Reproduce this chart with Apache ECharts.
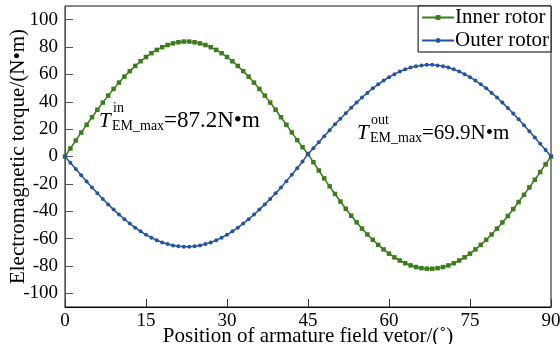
<!DOCTYPE html>
<html>
<head>
<meta charset="utf-8">
<script src="https://cdn.jsdelivr.net/npm/echarts@6/dist/echarts.min.js"></script>
<style>
  html, body { margin: 0; padding: 0; background: #fff; }
  #my_chart { width: 560px; height: 344px; }
</style>
</head>
<body>
<div id="my_chart"></div>
<script>
  // rotor position, degrees
  var angles = [
    0, 1, 2, 3, 4, 5, 6, 7, 8, 9, 10, 11, 12, 13, 14, 15, 16, 17, 18, 19, 20,
    21, 22, 23, 24, 25, 26, 27, 28, 29, 30, 31, 32, 33, 34, 35, 36, 37, 38, 39, 40,
    41, 42, 43, 44, 45, 46, 47, 48, 49, 50, 51, 52, 53, 54, 55, 56, 57, 58, 59, 60,
    61, 62, 63, 64, 65, 66, 67, 68, 69, 70, 71, 72, 73, 74, 75, 76, 77, 78, 79, 80,
    81, 82, 83, 84, 85, 86, 87, 88, 89, 90
  ];
  var innerTorque = [
    0, 5.9, 11.7, 17.5, 23.2, 28.7, 34.2, 39.4, 44.5, 49.4, 54.0,
    58.4, 62.4, 66.2, 69.6, 72.7, 75.5, 77.9, 79.9, 81.5, 82.7,
    83.5, 84.0, 84.0, 83.5, 82.7, 81.5, 79.9, 77.9, 75.5, 72.7,
    69.6, 66.2, 62.4, 58.4, 54.0, 49.4, 44.5, 39.4, 34.2, 28.7,
    23.2, 17.6, 12.0, 6.8, 1.8, -4.2, -10.2, -16.0, -21.8, -27.4,
    -32.9, -38.2, -43.3, -48.1, -52.7, -57.0, -60.9, -64.6, -67.9, -71.0,
    -73.7, -76.0, -78.0, -79.6, -80.8, -81.6, -82.0, -82.0, -81.6, -80.8,
    -79.6, -78.0, -76.0, -73.7, -71.0, -67.9, -64.6, -60.9, -57.0, -52.7,
    -48.2, -43.5, -38.5, -33.3, -28.0, -22.6, -17.0, -11.4, -5.7, 0
  ];
  var outerTorque = [
    0, -4.6, -9.2, -13.7, -18.2, -22.6, -26.8, -31.0, -35.0, -38.8, -42.4,
    -45.8, -49.0, -52.0, -54.7, -57.2, -59.3, -61.2, -62.8, -64.0, -65.0,
    -65.6, -66.0, -66.0, -65.6, -65.0, -64.0, -62.8, -61.2, -59.3, -57.2,
    -54.7, -52.0, -49.0, -45.8, -42.4, -38.8, -35.0, -31.0, -26.8, -22.6,
    -18.0, -13.4, -8.6, -3.6, 1.8, 6.0, 10.4, 14.8, 19.2, 23.5,
    27.6, 31.6, 35.6, 39.4, 43.1, 46.5, 49.8, 52.8, 55.5, 58.0,
    60.2, 62.1, 63.7, 65.0, 66.0, 66.6, 67.0, 67.0, 66.6, 66.0,
    65.0, 63.7, 62.1, 60.2, 58.0, 55.5, 52.8, 49.8, 46.5, 43.1,
    39.4, 35.5, 31.5, 27.3, 22.9, 18.5, 13.9, 9.3, 4.7, 0
  ];
  var yTicks = [-100, -80, -60, -40, -20, 0, 20, 40, 60, 80, 100];

  var serif = 'Liberation Serif';
  var green = '#3b7d1b';
  var blue = '#2453a6';

  function pairs(ys) {
    return angles.map(function (a, i) { return [a, ys[i]]; });
  }

  function note(x, y, sup, val, valSize) {
    return {
      type: 'group',
      x: x,
      y: y,
      children: [
        { type: 'text', x: 0, y: 0, style: { text: 'T', font: 'italic 21px ' + serif, fill: '#000', verticalAlign: 'middle' } },
        { type: 'text', x: 14, y: -13, style: { text: sup, font: '14px ' + serif, fill: '#000', verticalAlign: 'middle' } },
        { type: 'text', x: 13, y: 5, style: { text: 'EM_max', font: '14px ' + serif, fill: '#000', verticalAlign: 'middle' } },
        { type: 'text', x: 65, y: 0, style: { text: val, font: valSize + 'px ' + serif, fill: '#000', verticalAlign: 'middle' } }
      ]
    };
  }

  var tickText = {
    formatter: function (v) { return '{n|' + v + '}'; },
    rich: { n: { fontFamily: serif, fontSize: 19, color: '#000' } }
  };

  var my_chart = echarts.init(document.getElementById('my_chart'));
  my_chart.setOption({
    animation: false,
    backgroundColor: '#fff',
    textStyle: { fontFamily: serif },
    grid: {
      left: 65, right: 9, top: 6, bottom: 37,
      containLabel: false, outerBoundsMode: 'none',
      show: true, borderColor: '#111', borderWidth: 1
    },
    legend: {
      right: 9, top: 6,
      orient: 'vertical',
      itemGap: 2,
      itemWidth: 32, itemHeight: 6,
      padding: [1, 2, 1, 3],
      borderColor: '#000', borderWidth: 1, borderRadius: 0,
      backgroundColor: '#fff',
      textStyle: { fontFamily: serif, fontSize: 21, color: '#000', padding: [0, 0, 0, -4] },
      data: ['Inner rotor', 'Outer rotor']
    },
    xAxis: {
      type: 'value',
      min: 0, max: 90, interval: 15,
      name: 'Position of armature field vetor/(˚)',
      nameLocation: 'middle', nameGap: 19, nameMoveOverlap: false,
      nameTextStyle: { fontFamily: serif, fontSize: 21, color: '#000' },
      axisLine: { onZero: false, lineStyle: { color: '#000', width: 1 } },
      axisTick: { inside: true, length: 8, lineStyle: { color: '#333' } },
      axisLabel: Object.assign({ fontFamily: serif, fontSize: 19, color: '#000', margin: 5 }, tickText),
      splitLine: { show: false }
    },
    yAxis: {
      type: 'value',
      min: -110, max: 110,
      name: 'Electromagnetic torque/(N•m)',
      nameLocation: 'middle', nameGap: 36, nameMoveOverlap: false,
      nameTextStyle: { fontFamily: serif, fontSize: 21, color: '#000' },
      axisLine: { show: true, onZero: false, lineStyle: { color: '#555', width: 1 } },
      axisTick: { inside: true, length: 8, customValues: yTicks, lineStyle: { color: '#555' } },
      axisLabel: Object.assign({ fontFamily: serif, fontSize: 19, color: '#000', margin: 7, customValues: yTicks }, tickText),
      splitLine: { show: false }
    },
    series: [{
      name: 'Inner rotor',
      type: 'line',
      data: pairs(innerTorque),
      symbol: 'rect', symbolSize: 4.5,
      itemStyle: { color: green },
      lineStyle: { color: green, width: 1.5 }
    }, {
      name: 'Outer rotor',
      type: 'line',
      data: pairs(outerTorque),
      symbol: 'circle', symbolSize: 4,
      itemStyle: { color: blue },
      lineStyle: { color: blue, width: 1.5 }
    }],
    graphic: [
      note(99, 121, 'in', '=87.2N•m', 23),
      note(357, 133, 'out', '=69.9N•m', 21)
    ]
  });
</script>
</body>
</html>
